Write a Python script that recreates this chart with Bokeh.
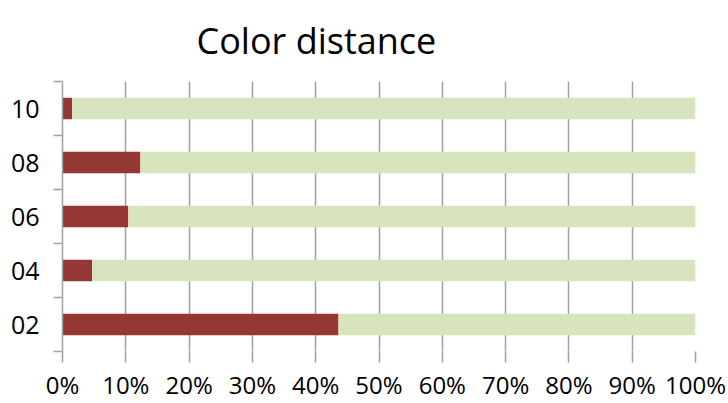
from bokeh.plotting import figure
from bokeh.models import FixedTicker, NumeralTickFormatter, ColumnDataSource
from bokeh.embed import file_html
from bokeh.resources import INLINE

title_text = "Color distance"
categories = ["02", "04", "06", "08", "10"]
red_share = [0.436, 0.047, 0.104, 0.123, 0.015]
green_share = [1 - v for v in red_share]

pos = list(range(1, len(categories) + 1))
src = ColumnDataSource(dict(y=pos, red=red_share, total=[r + g for r, g in zip(red_share, green_share)]))

p = figure(width=728, height=403, output_backend="svg", toolbar_location=None,
           x_range=(0, 1), y_range=(0.5, len(categories) + 0.5),
           min_border_left=62, min_border_right=33, min_border_top=78, min_border_bottom=50,
           title=title_text)
p.title.text_font = "Open Sans"
p.title.text_font_size = "36px"
p.title.text_font_style = "normal"
p.title.align = "left"
p.title.vertical_align = "top"
p.title.offset = 134
p.title.standoff = 30
p.title.text_color = "#000000"
p.outline_line_color = None

p.hbar(y="y", left=0, right="red", height=0.4, source=src, fill_color="#953735", line_color=None)
p.hbar(y="y", left="red", right="total", height=0.4, source=src, fill_color="#D7E4BD", line_color=None)

gray = "#A0A0A0"
p.xaxis.ticker = FixedTicker(ticks=[i / 10 for i in range(11)])
p.xaxis.formatter = NumeralTickFormatter(format="0%")
p.xaxis.axis_line_color = None
p.xaxis.major_tick_out = 11
p.xaxis.major_tick_in = 0
p.xaxis.major_tick_line_color = gray
p.xaxis.major_tick_line_width = 1.5
p.xaxis.minor_tick_line_color = None
p.xaxis.major_label_text_font = "Open Sans"
p.xaxis.major_label_text_font_size = "24px"
p.xaxis.major_label_text_color = "#000000"
p.xaxis.major_label_standoff = 5

p.yaxis.ticker = FixedTicker(ticks=pos, minor_ticks=[i + 0.5 for i in range(len(categories) + 1)])
p.yaxis.major_label_overrides = {k: c for k, c in zip(pos, categories)}
p.yaxis.axis_line_color = gray
p.yaxis.axis_line_width = 1.5
p.yaxis.major_tick_line_color = None
p.yaxis.major_tick_out = 0
p.yaxis.major_tick_in = 0
p.yaxis.minor_tick_out = 9
p.yaxis.minor_tick_in = 0
p.yaxis.minor_tick_line_color = gray
p.yaxis.minor_tick_line_width = 1.5
p.yaxis.major_label_text_font = "Open Sans"
p.yaxis.major_label_text_font_size = "25px"
p.yaxis.major_label_text_color = "#000000"
p.yaxis.major_label_standoff = 14

p.xgrid.ticker = FixedTicker(ticks=[i / 10 for i in range(11)])
p.xgrid.grid_line_color = gray
p.xgrid.grid_line_width = 1.5
p.ygrid.grid_line_color = None

open("out.html", "w").write(file_html(p, INLINE))
